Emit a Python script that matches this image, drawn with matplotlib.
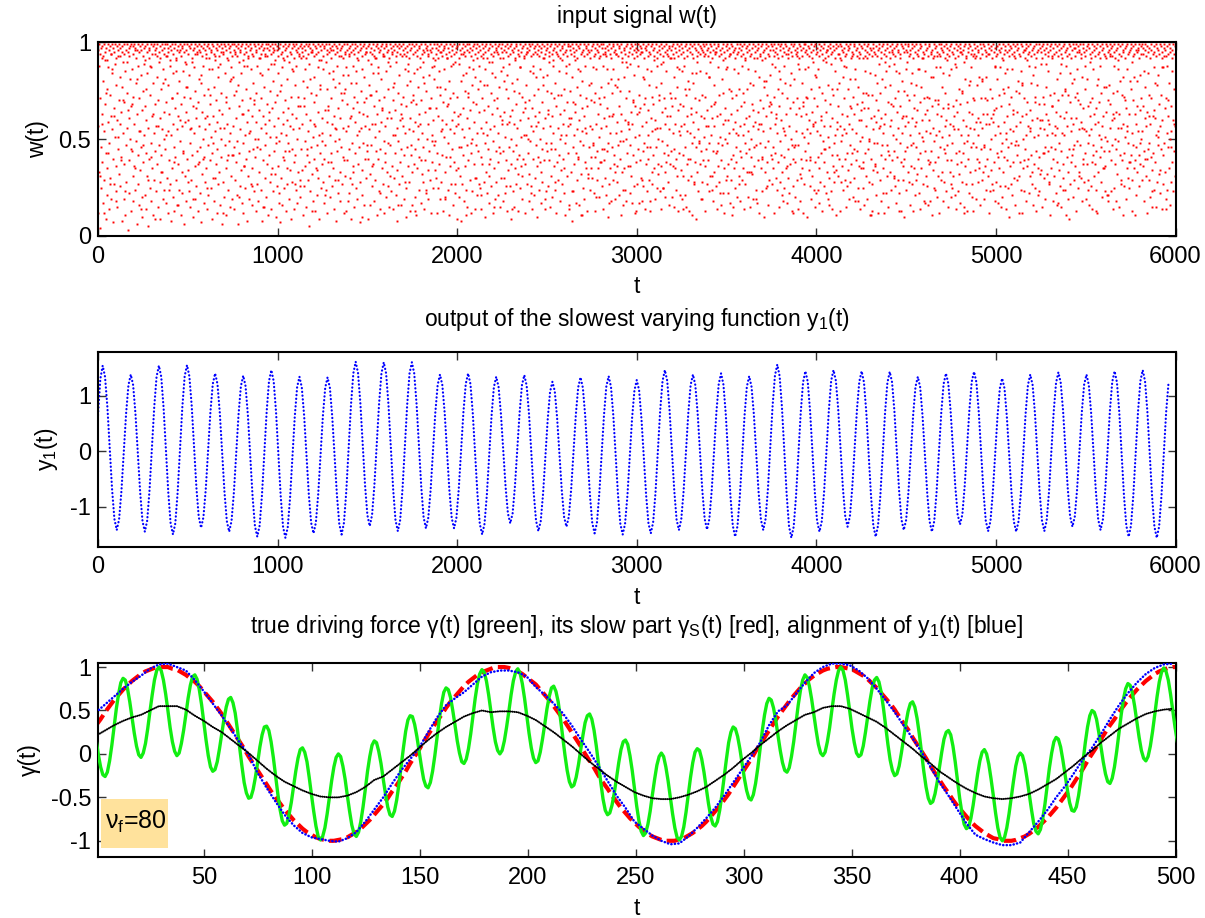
import numpy as np
import matplotlib
matplotlib.use('Agg')
import matplotlib.pyplot as plt
from matplotlib.ticker import FuncFormatter
from matplotlib.patches import Rectangle

plt.rcParams['font.family'] = ['Liberation Sans', 'DejaVu Sans']
plt.rcParams['mathtext.fontset'] = 'custom'
plt.rcParams['mathtext.rm'] = 'Liberation Sans'
plt.rcParams['mathtext.it'] = 'Liberation Sans:italic'
plt.rcParams['mathtext.bf'] = 'Liberation Sans:bold'
plt.rcParams['axes.unicode_minus'] = False

# ---------------- data ----------------
# input signal w(t) in percent; two interleaved sample sets over t = 0..6000
W_DT_B = 2.5     # set B: one value every 2.5 steps
W_DT_C = 3.75    # set C: one value every 3.75 steps, offset 1.25
W_OFF_C = 1.25
w_pct_b = [
12,57,33,88,71,4,46,25,92,63,38,17,80,54,29,91,68,9,43,76,35,21,87,59,14,48,73,30,94,62,19,55,84,40,7,66,27,89,51,36,78,23,60,15,45,93,70,32,82,58,
26,64,41,8,77,53,90,19,37,69,11,85,47,28,74,56,3,95,39,61,22,81,50,13,67,44,86,31,72,18,58,36,96,24,49,79,6,63,42,88,27,71,16,54,34,83,46,20,65,10,
75,38,52,89,21,67,43,14,60,84,31,5,56,92,40,73,25,48,18,87,62,35,79,11,53,29,94,68,44,23,57,82,37,15,70,47,90,28,61,9,76,42,55,33,86,19,64,50,24,81,
45,17,69,30,93,54,12,78,39,63,27,88,52,8,71,35,58,20,84,46,13,66,41,91,29,74,55,16,62,37,80,24,49,96,11,68,33,57,22,85,43,6,72,59,31,89,18,64,40,77,
34,60,23,83,48,15,71,56,29,90,42,67,10,53,87,36,19,75,61,26,94,44,13,69,38,81,57,22,46,7,79,32,64,50,88,17,41,73,28,55,92,35,62,14,76,47,21,86,58,39,
68,25,51,9,86,43,62,30,77,18,54,93,37,70,12,59,45,82,27,65,33,89,16,50,74,41,6,63,28,95,56,20,47,84,35,72,11,58,39,91,24,66,49,15,80,53,31,87,42,19,
57,82,14,46,73,29,95,38,61,21,49,78,6,67,43,90,26,55,34,84,17,70,48,12,63,36,88,52,25,76,40,59,8,93,31,65,44,19,71,54,27,86,35,62,16,79,45,23,68,50,
41,13,74,59,27,88,50,18,65,33,92,45,71,24,56,8,83,39,62,15,77,47,30,94,53,20,68,37,86,11,60,42,75,28,51,89,14,66,35,80,23,57,44,96,32,69,10,48,73,26,
84,36,61,22,49,7,75,53,30,87,16,64,41,58,25,91,44,70,13,52,35,81,27,66,48,19,90,57,34,72,9,45,63,28,85,55,38,14,78,42,61,24,88,50,17,67,33,93,56,29,
20,67,45,92,34,58,11,80,26,71,49,36,86,15,63,42,77,29,54,5,89,38,60,23,74,46,32,95,51,18,69,40,82,13,57,35,73,21,47,87,30,64,52,9,78,43,25,91,61,37,
53,28,86,40,17,65,47,24,90,59,12,76,38,67,31,84,52,20,71,43,96,26,58,35,81,14,62,49,29,77,55,8,88,44,66,22,50,79,33,61,18,93,46,70,27,56,83,12,39,74,
31,76,54,13,68,39,83,57,22,45,94,30,61,9,79,48,27,66,88,36,15,72,43,59,25,85,52,19,69,37,91,46,64,28,7,75,56,34,86,21,63,48,16,82,40,57,30,71,95,44,
62,9,40,78,55,32,16,89,47,73,26,58,84,37,18,67,51,92,29,44,75,11,63,40,87,54,23,70,45,14,59,81,35,66,93,27,49,12,72,38,57,20,85,61,33,76,48,26,64,15,
88,47,23,61,36,95,70,14,52,30,79,43,65,21,90,56,34,8,74,49,27,83,60,38,16,68,45,93,31,57,72,19,42,86,53,25,67,10,78,46,36,89,55,28,61,13,80,42,69,33,
16,54,73,37,84,20,59,45,68,11,86,35,50,77,24,63,41,87,58,17,70,32,53,90,28,46,79,14,64,39,22,75,50,96,34,58,19,83,44,66,29,71,12,52,87,38,60,25,47,81,
49,91,30,66,12,77,43,25,62,85,37,19,73,54,95,28,60,42,13,69,86,51,33,76,20,58,41,92,67,24,48,80,11,55,36,71,27,88,45,60,16,74,53,38,64,90,22,57,34,9,
72,35,58,20,89,46,63,31,8,80,55,27,94,42,66,18,51,75,36,84,24,61,47,15,72,39,87,56,29,65,43,12,78,50,23,69,91,37,59,14,82,47,30,68,53,21,76,44,88,27,
25,80,41,56,14,71,37,92,53,28,65,48,10,86,33,59,22,78,45,67,31,90,17,55,40,74,26,63,84,12,49,35,70,57,19,82,44,28,66,95,38,53,21,77,46,62,15,85,30,58,
60,18,87,44,30,64,22,51,76,39,13,83,58,34,71,46,89,26,62,9,50,37,79,65,23,44,58,15,91,35,68,27,47,81,56,32,13,74,42,60,87,25,51,36,72,19,64,40,93,52,
37,69,12,78,52,27,95,61,43,18,70,32,85,49,26,57,14,66,40,88,54,21,73,30,62,47,82,36,10,59,76,41,24,64,50,86,33,17,69,45,28,78,56,39,92,14,61,48,23,75,
83,44,26,65,39,90,15,57,31,74,48,62,20,88,53,36,71,24,45,79,12,67,94,38,56,29,85,42,63,18,50,73,34,91,27,58,40,76,22,65,48,11,84,52,31,69,43,57,16,89,
14,58,75,33,61,8,82,46,69,23,52,37,91,64,17,43,77,55,29,86,40,16,60,49,73,32,11,66,54,80,25,47,62,19,88,38,71,53,35,13,67,96,30,46,78,24,57,35,70,41,
55,30,48,87,22,69,41,74,13,58,86,29,44,63,35,92,20,51,68,38,77,56,26,45,88,14,61,39,72,30,94,21,57,44,66,10,79,48,27,62,53,35,81,18,46,74,29,63,86,37,
42,78,19,53,94,36,59,28,81,47,21,67,40,75,11,54,63,33,90,16,49,82,35,60,24,71,50,18,87,43,59,36,75,55,22,47,89,31,64,17,58,70,42,26,83,51,12,67,38,95,
27,63,88,45,17,52,73,39,66,30,95,18,57,82,44,26,68,48,14,71,59,37,23,86,52,40,65,29,78,13,46,61,85,33,54,27,42,68,91,35,19,60,77,46,25,56,88,32,50,73,
70,23,56,36,79,14,64,49,25,90,43,71,33,58,20,85,38,62,47,28,93,55,16,74,37,62,44,92,20,67,36,53,15,82,45,71,58,24,40,77,31,65,13,86,54,43,68,21,57,34,
19,85,42,67,31,58,88,21,46,73,15,54,62,37,80,29,13,76,53,40,66,31,84,48,11,59,79,27,51,38,71,9,64,46,90,33,55,23,70,49,85,37,62,19,44,73,28,95,39,61,
51,36,72,13,84,45,27,65,39,57,82,23,48,90,31,67,52,24,61,44,18,78,57,33,69,95,26,43,14,62,87,48,36,73,28,51,63,39,16,81,47,22,58,74,35,12,66,50,86,29,
87,48,31,60,22,76,53,17,94,40,63,29,71,11,55,42,86,35,59,25,73,46,38,65,20,52,84,31,76,44,57,18,67,41,29,88,52,35,14,69,58,27,91,43,61,76,33,20,54,45,
33,62,15,79,50,41,68,32,57,19,78,46,36,85,59,24,47,92,17,64,39,55,82,12,70,48,35,58,23,91,40,66,54,10,77,33,46,80,62,25,38,73,49,16,67,29,56,83,42,68,
64,27,89,46,35,72,12,58,43,87,30,61,24,53,76,38,67,15,49,81,28,60,42,74,33,18,56,88,41,25,79,52,35,63,17,71,45,94,30,57,22,66,37,50,84,13,47,69,26,40,
46,81,38,20,63,54,93,29,71,14,47,66,86,32,18,62,40,79,53,35,12,69,51,27,86,44,63,39,72,55,10,48,87,34,60,26,53,41,76,19,64,31,57,90,24,71,38,15,59,82,
22,54,67,41,86,17,35,77,52,28,60,43,13,74,49,91,26,57,38,70,45,22,64,96,33,51,19,78,46,30,68,57,23,89,42,14,61,36,73,48,28,85,52,34,11,76,59,42,67,31,
79,40,13,57,28,91,49,63,36,82,24,55,71,40,29,53,15,87,62,43,76,34,19,58,47,81,28,66,37,93,55,20,72,45,63,30,86,18,53,39,68,44,25,77,60,36,92,49,14,65,
35,69,51,25,74,38,16,66,85,43,57,31,92,19,66,45,73,28,50,11,84,61,40,27,73,13,55,34,62,48,83,37,59,21,70,48,33,65,12,89,56,29,74,42,18,61,47,81,35,53,
58,12,77,63,40,22,85,47,31,69,15,88,42,57,33,78,60,24,95,39,52,67,30,44,89,26,71,50,17,64,41,75,29,56,84,22,48,67,38,13,80,53,36,62,29,75,10,57,44,86,
24,73,46,90,33,59,28,70,16,52,79,36,61,27,84,13,48,66,35,57,21,46,78,59,32,65,40,86,22,53,69,14,43,77,35,60,92,27,49,71,18,44,63,85,31,54,26,72,39,16,
71,37,60,18,53,82,44,11,67,34,56,93,25,49,70,38,87,52,20,63,41,31,68,12,54,87,46,29,62,33,77,51,18,66,45,28,57,74,23,60,39,91,47,15,68,52,83,33,58,27,
39,86,25,48,67,31,62,55,89,21,43,70,14,64,37,55,23,76,44,68,95,17,52,38,75,28,60,43,90,15,48,36,81,57,27,69,13,52,40,78,64,22,56,33,87,46,20,63,71,48,
13,55,70,34,92,46,19,78,40,61,28,52,82,38,59,16,71,45,29,80,56,33,63,47,19,71,36,58,24,82,63,40,94,31,58,12,76,45,61,34,50,27,71,59,24,38,65,87,18,52,
66,28,43,81,17,57,73,35,53,26,87,44,67,20,48,91,33,59,74,41,26,84,14,50,62,39,77,25,46,68,10,55,36,72,48,86,21,63,38,54,93,30,47,16,75,57,42,29,64,80,
47,74,31,59,38,85,24,62,12,79,50,35,23,71,96,45,18,63,52,36,69,57,40,88,22,65,31,54,79,42,60,27,83,16,51,37,69,25,87,44,13,61,78,35,52,23,68,41,56,32,
89,34,60,15,72,43,55,30,68,46,19,63,77,52,32,60,44,85,27,58,11,73,46,35,67,53,93,18,40,74,31,57,45,64,22,38,81,56,17,70,48,34,62,26,89,44,15,73,53,24,
30,61,52,76,24,64,11,88,41,57,33,73,45,9,84,27,69,38,54,79,42,20,58,81,29,47,72,36,61,13,86,49,25,70,55,95,33,47,68,30,59,18,82,40,66,37,55,28,76,43,
54,19,81,37,48,29,67,52,16,90,62,26,55,38,71,14,86,47,63,31,58,37,24,66,44,78,12,59,33,52,69,41,88,28,46,74,20,57,35,62,44,77,23,51,36,64,92,21,49,70,
21,78,44,68,56,93,39,23,60,47,74,14,88,61,25,50,37,64,18,75,32,49,91,56,15,63,42,80,27,56,39,73,11,58,82,26,43,70,51,19,66,35,57,86,30,48,63,25,80,38,
76,42,29,53,13,70,47,82,35,63,39,58,21,46,80,33,54,96,42,26,65,83,37,50,71,29,54,36,67,44,18,61,77,40,31,57,64,12,84,45,29,73,48,20,58,41,71,34,15,62,
43,65,87,24,61,38,52,15,78,28,54,83,47,32,68,57,22,45,73,87,14,60,42,27,93,48,33,66,19,71,53,88,24,46,62,35,79,50,16,67,54,28,85,38,60,23,44,76,57,31,
]
w_pct_c = [
96,99,31,94,97,58,98,93,12,99,95,74,97,91,99,43,96,98,27,94,99,86,97,62,95,99,92,18,98,96,51,99,93,97,39,95,98,70,99,94,23,96,99,90,65,97,93,98,45,99,
68,98,94,99,35,97,92,96,81,99,54,95,98,14,96,99,93,47,97,91,98,76,99,95,29,96,97,88,99,41,94,98,63,99,96,9,97,93,99,57,95,98,92,33,99,96,79,94,97,99,
93,52,99,97,95,24,98,91,96,71,99,94,38,97,99,92,85,96,98,16,95,99,60,93,97,98,44,99,95,90,77,96,99,28,94,98,97,55,99,92,96,19,97,99,94,66,98,95,37,96,
99,95,83,98,93,40,97,99,96,61,94,98,25,99,92,97,73,96,95,99,48,98,94,91,30,97,99,96,87,93,98,56,99,95,97,12,94,99,98,69,96,92,99,42,97,95,98,81,93,99,
42,96,99,94,98,75,93,97,99,20,95,96,98,63,99,91,94,36,97,99,95,88,92,98,53,96,99,97,26,94,93,99,70,98,95,96,46,99,97,92,84,98,94,99,15,96,97,93,58,99,
97,93,99,64,96,98,94,32,99,95,97,89,91,99,51,98,96,93,17,97,99,94,78,95,98,92,39,99,96,97,60,93,98,99,44,95,94,97,86,99,92,98,27,96,99,95,72,97,94,98,
26,99,95,97,93,98,67,96,99,92,45,94,98,99,81,97,95,13,96,99,93,58,98,97,94,34,99,95,91,76,98,96,99,49,93,97,98,21,99,94,96,65,95,99,97,38,92,98,96,85,
99,94,56,98,97,95,29,99,93,96,74,97,98,92,41,99,95,94,87,96,99,18,97,93,98,62,95,99,96,33,94,97,99,79,98,92,95,54,99,96,97,10,93,98,99,69,94,95,97,47,
91,98,99,73,95,97,94,36,99,96,93,58,98,92,99,84,97,95,22,96,98,99,65,94,93,97,43,99,98,95,90,96,92,31,99,97,94,77,98,96,99,52,93,95,98,16,97,99,94,63,
98,61,96,99,94,97,28,93,98,95,85,99,92,96,47,97,99,94,70,98,95,13,99,96,93,57,97,98,92,39,99,94,96,82,95,99,97,24,98,93,94,66,99,96,95,49,97,92,99,88,
34,97,94,99,96,92,98,77,95,99,93,55,96,97,98,19,99,94,92,68,97,95,99,41,93,98,96,89,94,99,27,97,95,98,62,99,92,96,46,94,97,99,83,95,98,93,11,96,99,74,
95,99,97,48,93,96,98,86,99,94,30,97,92,99,95,64,98,96,93,21,99,97,94,78,95,98,99,52,92,96,97,37,99,94,98,90,93,95,15,99,97,96,71,98,94,99,43,92,97,95,
99,92,80,96,98,95,26,99,97,93,59,94,98,99,14,96,95,97,75,92,99,98,40,94,96,93,87,99,95,97,31,98,92,99,66,94,97,95,50,99,96,98,22,93,99,94,84,97,95,98,
57,94,99,96,98,93,38,97,95,99,82,92,98,94,19,96,99,97,63,95,93,98,45,99,94,96,91,97,99,28,95,98,93,73,99,96,92,52,98,97,94,35,99,95,96,88,93,98,99,61,
96,98,94,99,23,97,93,95,68,99,96,92,41,98,97,99,85,94,95,11,96,99,93,56,98,97,94,32,99,95,92,79,96,98,99,47,93,97,94,20,99,96,95,71,98,93,99,38,97,94,
99,45,97,95,93,98,86,96,99,17,94,97,92,62,99,98,95,33,96,94,99,77,93,97,98,49,95,99,92,24,97,96,94,90,98,99,58,93,95,97,36,99,94,98,69,96,92,99,13,97,
93,99,96,64,98,94,97,29,95,99,92,81,97,96,98,46,99,93,95,18,94,98,99,72,96,97,93,55,99,95,92,37,98,96,94,89,99,97,25,93,98,95,66,99,94,96,42,97,98,92,
71,96,98,99,94,92,35,97,95,99,87,93,98,96,52,99,94,97,14,95,92,98,76,99,96,93,40,97,99,95,63,94,98,92,28,99,97,96,84,93,95,99,48,98,94,97,19,96,99,93,
98,94,99,57,96,93,97,82,99,95,98,31,92,96,99,68,94,97,95,44,98,99,93,22,96,94,97,91,99,95,92,60,98,96,99,37,93,97,94,75,99,98,95,15,96,92,97,53,99,94,
95,97,27,99,93,96,98,74,94,99,92,48,97,95,98,86,99,96,93,33,94,97,99,65,92,98,95,19,96,99,97,58,93,94,98,41,99,95,96,80,92,97,99,26,94,98,93,69,96,99,
40,98,96,93,99,95,97,63,94,99,92,85,98,96,99,21,93,97,95,54,99,94,98,36,96,92,97,78,99,95,93,12,98,99,96,47,94,97,95,89,92,99,98,30,96,93,97,67,99,95,
99,96,94,71,98,97,93,39,99,95,92,58,96,98,99,83,94,97,95,24,93,99,96,62,98,94,97,45,99,92,95,90,96,98,93,16,99,97,94,76,95,98,96,33,92,99,97,55,94,98,
94,92,99,98,52,96,95,97,88,93,99,94,26,98,96,97,67,99,92,95,43,94,98,99,81,96,93,97,18,99,95,94,60,98,97,92,35,99,96,93,74,95,98,99,49,94,97,96,11,93,
97,99,95,36,94,98,93,79,96,99,97,57,92,95,98,22,99,94,96,90,93,97,99,44,95,98,92,68,96,99,94,31,97,93,98,85,99,95,96,13,94,92,99,61,98,97,95,40,99,96,
62,95,98,99,93,96,94,47,99,97,92,73,98,95,99,29,94,96,93,86,97,99,98,51,92,95,94,17,99,96,97,65,93,98,99,38,95,94,96,82,92,99,97,24,98,93,95,70,99,94,
93,97,99,96,84,95,98,92,43,99,94,97,66,96,93,98,20,99,95,94,57,97,92,99,87,96,98,93,32,99,97,95,74,94,96,98,12,99,93,92,49,97,95,99,80,98,94,96,27,93,
99,94,97,59,93,98,95,96,35,99,92,97,81,94,99,98,46,96,95,93,70,99,97,94,23,98,96,92,63,99,95,97,88,93,98,94,41,99,96,95,15,97,92,99,76,94,98,96,53,95,
86,99,93,96,98,27,97,94,99,65,95,92,98,49,96,99,97,12,94,93,99,78,98,95,96,39,92,97,99,91,94,98,95,56,99,93,96,33,97,94,98,72,99,92,95,21,96,99,97,60,
95,98,92,99,43,96,94,97,89,99,93,95,28,98,96,99,67,92,97,94,52,99,95,98,16,93,96,99,84,94,97,92,37,98,99,95,75,96,93,97,19,99,94,98,61,92,96,99,45,97,
97,93,99,74,95,98,96,31,99,94,92,56,97,99,95,88,93,96,98,24,99,97,94,69,92,95,99,42,98,96,93,13,97,99,94,81,95,98,92,50,99,96,97,35,94,93,99,77,98,95,
18,96,99,94,97,93,98,63,95,99,92,45,96,97,99,86,94,98,93,29,99,95,96,72,97,92,98,54,99,94,95,38,96,99,97,90,93,98,94,11,99,96,95,67,97,92,99,48,98,94,
99,97,94,85,96,99,93,40,98,95,97,62,92,99,96,23,94,98,95,79,99,93,97,51,96,94,99,34,98,92,95,87,97,99,96,14,93,98,94,70,99,95,97,46,92,96,99,58,94,98,
]

# output of the slowest varying function y1(t), sampled every MID_DT steps
MID_DT = 6000 / 460
y1_mid = [
.65,1.30,1.54,1.34,.80,.06,-.68,-1.22,-1.42,-1.23,-.72,-.02,.68,1.19,
1.38,1.19,.67,-.04,-.74,-1.26,-1.45,-1.25,-.70,.05,.79,1.34,
1.54,1.34,.78,.02,-.74,-1.30,-1.50,-1.30,-.74,.03,.79,1.35,
1.55,1.35,.82,.09,-.65,-1.18,-1.38,-1.19,-.69,.01,.71,1.21,
1.40,1.21,.69,-.03,-.74,-1.26,-1.45,-1.26,-.75,-.05,.66,1.17,
1.36,1.17,.64,-.09,-.82,-1.35,-1.54,-1.34,-.79,-.04,.71,1.26,
1.46,1.26,.71,-.05,-.81,-1.36,-1.56,-1.37,-.84,-.11,.62,1.15,
1.34,1.15,.64,-.07,-.78,-1.29,-1.48,-1.29,-.78,-.08,.63,1.14,
1.33,1.14,.62,-.09,-.79,-1.31,-1.50,-1.29,-.72,.06,.83,1.40,
1.61,1.41,.87,.13,-.61,-1.15,-1.35,-1.15,-.61,.13,.86,1.40,
1.60,1.40,.84,.08,-.68,-1.24,-1.44,-1.24,-.68,.08,.84,1.40,
1.60,1.40,.85,.11,-.64,-1.19,-1.39,-1.20,-.70,-.01,.69,1.19,
1.38,1.19,.69,-.01,-.70,-1.20,-1.39,-1.20,-.69,.01,.70,1.21,
1.40,1.21,.68,-.05,-.78,-1.31,-1.50,-1.31,-.79,-.08,.63,1.15,
1.34,1.16,.68,.02,-.64,-1.12,-1.30,-1.12,-.63,.04,.70,1.19,
1.37,1.18,.67,-.04,-.74,-1.25,-1.44,-1.26,-.77,-.10,.58,1.07,
1.25,1.08,.60,-.06,-.71,-1.19,-1.36,-1.18,-.69,-.02,.66,1.15,
1.33,1.14,.63,-.08,-.78,-1.29,-1.48,-1.29,-.77,-.07,.64,1.16,
1.35,1.16,.64,-.08,-.79,-1.31,-1.50,-1.31,-.81,-.11,.59,1.09,
1.28,1.10,.59,-.10,-.79,-1.30,-1.48,-1.28,-.75,-.01,.73,1.26,
1.46,1.27,.74,.02,-.70,-1.23,-1.42,-1.23,-.72,-.02,.68,1.19,
1.38,1.19,.68,-.02,-.71,-1.22,-1.41,-1.22,-.71,-.01,.70,1.21,
1.40,1.20,.67,-.07,-.81,-1.34,-1.54,-1.35,-.82,-.10,.63,1.16,
1.35,1.16,.66,-.04,-.73,-1.23,-1.42,-1.22,-.68,.07,.82,1.36,
1.56,1.35,.78,.00,-.78,-1.35,-1.56,-1.36,-.81,-.06,.69,1.24,
1.44,1.25,.72,-.01,-.73,-1.26,-1.45,-1.26,-.72,.01,.73,1.27,
1.46,1.27,.76,.05,-.66,-1.17,-1.36,-1.17,-.66,.04,.74,1.25,
1.44,1.24,.70,-.05,-.80,-1.34,-1.54,-1.34,-.80,-.06,.69,1.23,
1.43,1.24,.72,.01,-.71,-1.23,-1.42,-1.24,-.73,-.04,.65,1.16,
1.34,1.15,.64,-.06,-.75,-1.26,-1.45,-1.26,-.74,-.03,.69,1.21,
1.40,1.22,.72,.04,-.64,-1.14,-1.32,-1.14,-.63,.06,.74,1.25,
1.43,1.24,.71,-.01,-.72,-1.25,-1.44,-1.26,-.75,-.07,.62,1.13,
1.31,1.13,.62,-.07,-.76,-1.27,-1.45,-1.26,-.74,-.04,.67,1.19,
1.38,1.19,.68,-.03,-.74,-1.25,-1.44,-1.25,-.73,-.01,.71,1.23,
1.42,1.23,.73,.03,-.67,-1.17,-1.36,-1.18,-.68,.01,.70,1.20,
1.38,1.19,.68,-.02,-.72,-1.23,-1.42,-1.23,-.71,.01,.73,1.25,
1.44,1.24,.70,-.05,-.80,-1.34,-1.54,-1.34,-.79,-.04,.71,1.26,
1.46,1.26,.71,-.05,-.81,-1.36,-1.56,-1.36,-.81,-.06,.70,1.22,
]

# bottom panel, sampled from T0 every DT time steps
T0 = 0.135
DT = 2.0775
gamma_slow = [
.33,.40,.48,.55,.62,.68,.74,.79,.84,.88,.92,.95,.97,.99,1.00,1.00,1.00,.98,.97,.94,
.91,.87,.83,.78,.72,.66,.60,.53,.46,.38,.30,.22,.14,.06,-.03,-.11,-.19,-.27,-.35,-.43,
-.50,-.57,-.64,-.70,-.76,-.81,-.86,-.90,-.93,-.96,-.98,-.99,-1.00,-1.00,-.99,-.98,-.96,-.93,-.90,-.86,
-.81,-.76,-.70,-.64,-.58,-.51,-.43,-.36,-.28,-.20,-.11,-.03,.05,.14,.22,.30,.38,.45,.53,.60,
.66,.72,.78,.83,.87,.91,.94,.96,.98,1.00,1.00,1.00,.99,.97,.95,.92,.88,.84,.80,.74,
.68,.62,.55,.48,.41,.33,.25,.17,.09,.00,-.08,-.16,-.25,-.33,-.40,-.48,-.55,-.62,-.68,-.74,
-.79,-.84,-.88,-.92,-.95,-.97,-.99,-1.00,-1.00,-1.00,-.98,-.97,-.94,-.91,-.87,-.83,-.78,-.72,-.66,-.60,
-.53,-.46,-.38,-.30,-.22,-.14,-.06,.03,.11,.19,.27,.35,.43,.50,.57,.64,.70,.76,.81,.86,
.90,.93,.96,.98,.99,1.00,1.00,.99,.98,.96,.93,.90,.86,.81,.76,.70,.64,.58,.51,.43,
.35,.28,.19,.11,.03,-.05,-.14,-.22,-.30,-.38,-.45,-.53,-.60,-.66,-.72,-.78,-.83,-.87,-.91,-.94,
-.97,-.98,-1.00,-1.00,-1.00,-.99,-.97,-.95,-.92,-.88,-.84,-.79,-.74,-.68,-.62,-.55,-.48,-.41,-.33,-.25,
-.17,-.08,.00,.08,.17,.25,.33,.40,.48,.55,.62,.68,.74,.79,.84,.88,.92,.95,.97,.99,
1.00,1.00,
]
# true driving force, sampled every DT/2
gamma_true = [
.16,-.01,-.15,-.24,-.26,-.21,-.08,.10,.31,.52,.69,.82,.87,.85,.75,.60,
.42,.24,.09,-.01,-.04,.01,.12,.29,.49,.68,.85,.96,1.00,.96,.85,.69,
.50,.30,.14,.03,-.02,.01,.12,.27,.45,.64,.79,.89,.91,.86,.74,.57,
.36,.16,-.02,-.15,-.20,-.18,-.09,.06,.23,.40,.54,.63,.65,.59,.47,.28,
.07,-.14,-.33,-.45,-.51,-.50,-.41,-.27,-.10,.08,.22,.31,.32,.27,.14,-.04,
-.25,-.46,-.64,-.77,-.82,-.80,-.70,-.56,-.38,-.20,-.05,.05,.07,.02,-.09,-.27,
-.47,-.66,-.83,-.95,-.99,-.95,-.85,-.69,-.50,-.31,-.15,-.04,.00,-.03,-.14,-.29,
-.48,-.66,-.82,-.92,-.95,-.90,-.78,-.61,-.41,-.20,-.03,.10,.15,.13,.03,-.11,
-.29,-.46,-.61,-.70,-.72,-.66,-.53,-.35,-.14,.07,.26,.39,.44,.43,.34,.20,
.03,-.14,-.29,-.37,-.39,-.33,-.20,-.02,.19,.40,.58,.71,.76,.74,.65,.50,
.33,.15,.01,-.09,-.11,-.06,.06,.23,.44,.64,.81,.92,.97,.94,.84,.68,
.49,.30,.14,.04,.00,.04,.15,.31,.49,.68,.84,.94,.98,.93,.81,.64,
.44,.24,.07,-.05,-.10,-.08,.02,.17,.34,.52,.66,.76,.78,.72,.60,.41,
.20,-.01,-.19,-.32,-.38,-.36,-.27,-.13,.04,.21,.36,.44,.46,.40,.27,.09,
-.12,-.33,-.52,-.65,-.70,-.68,-.59,-.45,-.28,-.10,.05,.14,.16,.11,-.02,-.19,
-.40,-.60,-.77,-.89,-.94,-.91,-.81,-.66,-.47,-.29,-.13,-.03,.01,-.03,-.15,-.31,
-.50,-.69,-.85,-.96,-.99,-.95,-.84,-.67,-.47,-.27,-.10,.02,.06,.04,-.06,-.21,
-.39,-.57,-.72,-.81,-.83,-.78,-.65,-.47,-.26,-.06,.13,.25,.31,.29,.20,.06,
-.11,-.28,-.42,-.51,-.53,-.47,-.34,-.16,.06,.27,.45,.58,.64,.62,.53,.39,
.21,.04,-.10,-.19,-.21,-.16,-.03,.14,.35,.56,.73,.85,.91,.88,.78,.63,
.45,.27,.11,.01,-.02,.02,.14,.30,.50,.69,.85,.96,1.00,.96,.85,.68,
.49,.29,.13,.01,-.03,-.01,.09,.25,.43,.61,.76,.85,.88,.83,.71,.53,
.32,.11,-.07,-.19,-.25,-.23,-.14,.01,.18,.35,.49,.58,.60,.54,.41,.23,
.01,-.20,-.38,-.51,-.57,-.55,-.46,-.32,-.15,.02,.17,.25,.27,.22,.09,-.09,
-.30,-.51,-.68,-.81,-.86,-.84,-.74,-.59,-.41,-.23,-.08,.02,.05,.00,-.12,-.29,
-.48,-.68,-.85,-.96,-1.00,-.96,-.85,-.69,-.50,-.31,-.14,-.03,.01,-.02,-.12,-.28,
-.46,-.64,-.80,-.89,-.92,-.87,-.75,-.58,-.37,-.16,.01,.14,.19,.17,.08,-.07,
-.24,-.41,-.56,-.65,-.66,-.61,-.48,-.30,-.08,.13,.31,.44,.50,.48,.40,.25,
.08,-.09,-.23,-.32,-.34,-.28,-.15,.03,.24,.45,.63,.75,.81,.79,.70,.55,
.37,.19,.04,-.05,-.08,-.03,.09,.26,.46,.66,.83,.94,.99,.95,.85,.69,
.50,.31,.15,
]
# every 2*DT
y1_aligned = [
.48,.57,.66,.75,.83,.90,.98,1.03,1.04,1.00,.96,.85,.72,.58,.44,.29,.13,-.01,-.22,-.39,
-.55,-.70,-.82,-.91,-.96,-.98,-1.00,-1.01,-.97,-.90,-.78,-.64,-.50,-.34,-.19,-.06,.07,.25,.42,.56,
.64,.71,.80,.89,.94,.96,.96,.94,.89,.77,.68,.58,.47,.33,.17,.02,-.14,-.31,-.48,-.62,
-.78,-.86,-.94,-1.00,-1.04,-1.03,-.95,-.85,-.74,-.62,-.48,-.33,-.18,-.03,.13,.33,.49,.56,.69,.82,
.93,1.00,1.04,1.04,1.02,.96,.87,.75,.62,.48,.33,.18,.02,-.15,-.33,-.48,-.64,-.80,-.93,-.98,
-1.02,-1.05,-1.05,-1.02,-.90,-.78,-.65,-.50,-.37,-.22,-.06,.07,.23,.40,.56,.70,.82,.92,.99,1.03,
1.04,
]
gamma_lowpass = [
.21,.27,.33,.38,.42,.45,.50,.55,.55,.55,.51,.44,.38,.31,.25,.17,.09,.01,-.08,-.17,
-.25,-.32,-.37,-.42,-.46,-.49,-.50,-.50,-.48,-.44,-.38,-.30,-.26,-.18,-.10,-.02,.07,.16,.24,.31,
.37,.43,.47,.50,.48,.49,.49,.48,.44,.39,.32,.25,.17,.09,.00,-.09,-.17,-.25,-.32,-.38,
-.44,-.48,-.51,-.52,-.52,-.50,-.47,-.43,-.38,-.31,-.24,-.16,-.07,.01,.10,.18,.26,.33,.39,.45,
.48,.53,.55,.55,.52,.47,.42,.37,.30,.22,.14,.06,-.03,-.11,-.20,-.27,-.34,-.40,-.45,-.49,
-.51,-.52,-.51,-.49,-.46,-.41,-.35,-.29,-.21,-.13,-.04,.04,.13,.21,.29,.35,.41,.46,.49,.51,
.52,
]
nu_f = 80

# ---------------- figure ----------------
FW, FH = 1205, 918
fig = plt.figure(figsize=(FW / 100, FH / 100), dpi=100)
fig.patch.set_facecolor('white')

def add_ax(top_px, bot_px, left_px=98, right_px=1175.5):
    return fig.add_axes([left_px / FW, 1 - bot_px / FH,
                         (right_px - left_px) / FW, (bot_px - top_px) / FH])

ax1 = add_ax(42.3, 236.0)
ax2 = add_ax(352.3, 546.7)
ax3 = add_ax(662.7, 857.3)

fmt = FuncFormatter(lambda v, p: '%g' % v)
TICK_FS = 17
LAB_FS = 16.5
TIT_FS = 16.5
XLAB_PAD = 5.5
for ax in (ax1, ax2, ax3):
    ax.tick_params(direction='in', length=5.5, width=1.0, top=True, right=True,
                   labelsize=TICK_FS, color='#333333')
    ax.tick_params(axis='x', pad=7)
    ax.tick_params(axis='y', pad=5)
    for s in ax.spines.values():
        s.set_linewidth(1.5)
        s.set_color('black')
    ax.xaxis.set_major_formatter(fmt)
    ax.yaxis.set_major_formatter(fmt)

# panel 1: input signal
wb = np.array(w_pct_b) / 100.0
wc = np.array(w_pct_c) / 100.0
t_wb = np.arange(len(wb)) * W_DT_B
t_wc = W_OFF_C + np.arange(len(wc)) * W_DT_C
for tt, ww in ((t_wb, wb), (t_wc, wc)):
    ax1.plot(tt, ww, linestyle='none', marker='s', ms=1.4, mew=0, color='red')
ax1.set_xlim(0, 6000)
ax1.set_ylim(0, 1)
ax1.set_xticks(np.arange(0, 6001, 1000))
ax1.set_yticks([0, 0.5, 1])
ax1.set_title('input signal w(t)', fontsize=TIT_FS, pad=14)
ax1.set_xlabel('t', fontsize=LAB_FS, labelpad=XLAB_PAD)
ax1.set_ylabel('w(t)', fontsize=LAB_FS, labelpad=7)

# panel 2: slowest output
y1 = np.array(y1_mid)
t_mid = np.arange(len(y1)) * MID_DT
ax2.plot(t_mid, y1, color='blue', lw=1.6, linestyle=(0, (0.1, 1.6)),
         dash_capstyle='round')
ax2.set_xlim(0, 6000)
ax2.set_ylim(-1.72, 1.78)
ax2.set_xticks(np.arange(0, 6001, 1000))
ax2.set_yticks([-1, 0, 1])
ax2.set_title('output of the slowest varying function y$_1$(t)', fontsize=TIT_FS, pad=19)
ax2.set_xlabel('t', fontsize=LAB_FS, labelpad=XLAB_PAD)
ax2.set_ylabel('y$_1$(t)', fontsize=LAB_FS, labelpad=7)

# panel 3: driving force
t_g = T0 + DT * np.arange(len(gamma_slow))
t_gt = T0 + 0.5 * DT * np.arange(len(gamma_true))
t_b = T0 + 2 * DT * np.arange(len(y1_aligned))
t_k = T0 + 2 * DT * np.arange(len(gamma_lowpass))
ax3.plot(t_g, gamma_slow, color='red', lw=3.0, linestyle=(0, (3.0, 1.3)), zorder=2)
ax3.plot(t_gt, gamma_true, color='#12ee12', lw=2.4, zorder=3, solid_joinstyle='round')
ax3.plot(t_b, y1_aligned, color='blue', lw=1.8, linestyle=(0, (0.1, 1.3)),
         dash_capstyle='round', zorder=4)
ax3.plot(t_k, gamma_lowpass, color='black', lw=1.5, linestyle=(0, (0.1, 0.9)),
         dash_capstyle='round', zorder=5)
ax3.set_xlim(1, 500)
ax3.set_ylim(-1.19, 1.05)
ax3.set_xticks(np.arange(50, 501, 50))
ax3.set_yticks([-1, -0.5, 0, 0.5, 1])
ax3.set_title('true driving force \u03b3(t) [green], its slow part \u03b3$_\\mathrm{S}$(t) [red], '
              'alignment of y$_1$(t) [blue]', fontsize=TIT_FS, pad=21.5)
ax3.set_xlabel('t', fontsize=LAB_FS, labelpad=XLAB_PAD)
ax3.set_ylabel('\u03b3(t)', fontsize=LAB_FS, labelpad=7)

ax3.add_patch(Rectangle((0.0028, 0.049), 0.062, 0.2506, transform=ax3.transAxes,
                        facecolor='#ffe29c', edgecolor='none', zorder=6))
ax3.text(0.0065, 0.145, '\u03bd$_\\mathrm{f}$=%d' % nu_f, transform=ax3.transAxes,
         fontsize=18, ha='left', va='baseline', zorder=7)

fig.savefig('out.png', dpi=100, facecolor='white')
